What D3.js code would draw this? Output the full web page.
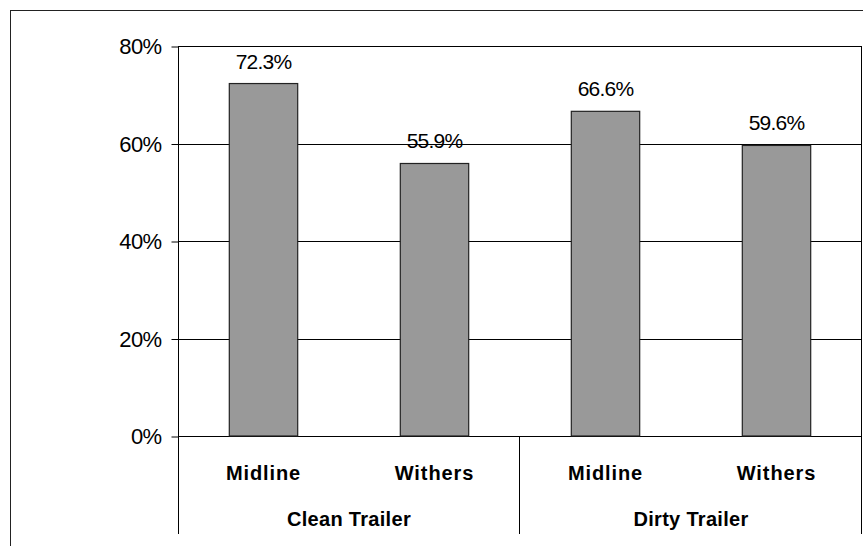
<!DOCTYPE html>
<html>
  <head>
    <meta charset="UTF-8" />
    <style>
      body { margin: 0; background: #fff; }
      svg { display: block; font-family: 'Liberation Sans', Arial, sans-serif; }
    </style>
  </head>
  <body>
    <svg></svg>
    <script src="https://d3js.org/d3.v7.min.js"></script>
    <script>
      // data
      const groups = ['Clean Trailer', 'Dirty Trailer']
      const positions = ['Midline', 'Withers']
      const values = [72.3, 55.9, 66.6, 59.6]
      const yTicks = [0, 20, 40, 60, 80]

      let width = 863,
        height = 546

      let svg = d3.select('svg').attr('width', width).attr('height', height)

      let plotLeft = 178,
        plotRight = 862,
        plotTop = 46,
        plotBottom = 436,
        axisBottom = 534

      // one row per bar
      let rows = []
      groups.forEach((g, i) => {
        positions.forEach((p, j) => {
          rows.push({ key: g + '|' + p, group: g, pos: p, value: values[i * positions.length + j] })
        })
      })

      let x = d3
        .scaleBand()
        .domain(rows.map((d) => d.key))
        .range([plotLeft, plotRight])
        .paddingInner(0.6)
        .paddingOuter(0.3)

      let xCat = d3
        .scaleBand()
        .domain(rows.map((d) => d.key))
        .range([plotLeft, plotRight])

      let xGroup = d3.scaleBand().domain(groups).range([plotLeft, plotRight])

      let y = d3.scaleLinear().domain([0, 80]).range([plotBottom, plotTop])

      // outer chart border (runs off the right/bottom edges)
      svg
        .append('rect')
        .attr('x', 10.5)
        .attr('y', 10.5)
        .attr('width', 870)
        .attr('height', 560)
        .attr('fill', 'none')
        .attr('stroke', '#222')

      // gridlines
      svg
        .append('g')
        .selectAll('line')
        .data(yTicks)
        .enter()
        .append('line')
        .attr('x1', plotLeft)
        .attr('x2', plotRight)
        .attr('y1', (d) => Math.round(y(d)) + 0.5)
        .attr('y2', (d) => Math.round(y(d)) + 0.5)
        .attr('stroke', '#000')

      // plot frame top/right
      svg
        .append('path')
        .attr('d', `M${plotLeft + 0.5},${plotTop + 0.5}H${plotRight - 0.5}V${plotBottom}`)
        .attr('fill', 'none')
        .attr('stroke', '#000')

      // y axis
      let yAxis = d3
        .axisLeft(y)
        .tickValues(yTicks)
        .tickSize(7)
        .tickPadding(10)
        .tickFormat((d) => d + '%')
      let yg = svg
        .append('g')
        .attr('transform', `translate(${plotLeft + 0.5},0.5)`)
        .call(yAxis)
      yg.attr('font-family', null).attr('font-size', null)
      yg.select('.domain').remove()
      yg.selectAll('line').attr('stroke', '#000')
      yg.selectAll('text')
        .attr('fill', '#000')
        .style('font-size', '22px')
        .style('letter-spacing', '-0.6px')

      // bars
      svg
        .append('g')
        .selectAll('rect')
        .data(rows)
        .enter()
        .append('rect')
        .attr('x', (d) => x(d.key))
        .attr('y', (d) => y(d.value))
        .attr('width', x.bandwidth())
        .attr('height', (d) => plotBottom - y(d.value))
        .attr('fill', '#999999')
        .attr('stroke', '#222')
        .attr('stroke-width', 1.2)

      // value labels
      svg
        .append('g')
        .selectAll('text')
        .data(rows)
        .enter()
        .append('text')
        .attr('x', (d) => x(d.key) + x.bandwidth() / 2)
        .attr('y', (d) => y(d.value) - 15)
        .attr('text-anchor', 'middle')
        .style('font-size', '21px')
        .style('letter-spacing', '-0.8px')
        .text((d) => d.value.toFixed(1) + '%')

      // left axis line, down through the category area
      svg
        .append('line')
        .attr('x1', plotLeft + 0.5)
        .attr('x2', plotLeft + 0.5)
        .attr('y1', plotTop)
        .attr('y2', axisBottom)
        .attr('stroke', '#000')

      // group separators
      let seps = [xGroup(groups[1]), plotRight]
      svg
        .append('g')
        .selectAll('line')
        .data(seps)
        .enter()
        .append('line')
        .attr('x1', (d) => Math.round(d) - 0.5)
        .attr('x2', (d) => Math.round(d) - 0.5)
        .attr('y1', plotBottom)
        .attr('y2', axisBottom)
        .attr('stroke', '#000')

      // category labels
      svg
        .append('g')
        .selectAll('text')
        .data(rows)
        .enter()
        .append('text')
        .attr('x', (d) => xCat(d.key) + xCat.bandwidth() / 2)
        .attr('y', 480)
        .attr('text-anchor', 'middle')
        .style('font-size', '20px')
        .style('font-weight', 'bold')
        .style('letter-spacing', '0.9px')
        .text((d) => d.pos)

      svg
        .append('g')
        .selectAll('text')
        .data(groups)
        .enter()
        .append('text')
        .attr('x', (d) => xGroup(d) + xGroup.bandwidth() / 2)
        .attr('y', 526)
        .attr('text-anchor', 'middle')
        .style('font-size', '20px')
        .style('font-weight', 'bold')
        .style('letter-spacing', '0.3px')
        .text((d) => d)
    </script>
  </body>
</html>
